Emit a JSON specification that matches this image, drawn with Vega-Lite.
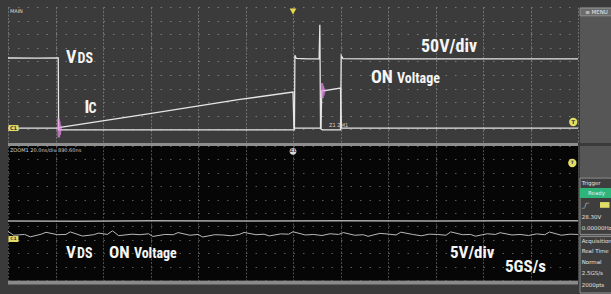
{
  "$schema": "https://vega.github.io/schema/vega-lite/v6.json",
  "background": "#3a3a3a",
  "padding": {"left": 5, "top": 7, "right": 0, "bottom": 0},
  "bounds": "flush",
  "columns": 2,
  "spacing": {"row": 3, "column": 2},
  "config": {
    "view": {"stroke": null},
    "axis": {"labels": false, "ticks": false, "domain": false, "title": null, "grid": true, "gridWidth": 1},
    "axisX": {"tickCount": 12},
    "axisY": {"tickCount": 10}
  },
  "datasets": {
    "main": [
      {"trace": "VDS", "t": 0, "v": 1.25}, {"trace": "VDS", "t": 0.6, "v": 1.24}, {"trace": "VDS", "t": 1.058, "v": 1.25},
      {"trace": "VDS", "t": 1.066, "v": -4.04}, {"trace": "VDS", "t": 1.3, "v": -4.04}, {"trace": "VDS", "t": 3.0, "v": -4.03},
      {"trace": "VDS", "t": 6.03, "v": -4.04}, {"trace": "VDS", "t": 6.04, "v": 1.45}, {"trace": "VDS", "t": 6.07, "v": 1.22},
      {"trace": "VDS", "t": 6.3, "v": 1.19}, {"trace": "VDS", "t": 6.55, "v": 1.18}, {"trace": "VDS", "t": 6.565, "v": 3.7},
      {"trace": "VDS", "t": 6.58, "v": -3.95}, {"trace": "VDS", "t": 6.62, "v": -4.04}, {"trace": "VDS", "t": 7.0, "v": -4.04},
      {"trace": "VDS", "t": 7.015, "v": 1.42}, {"trace": "VDS", "t": 7.05, "v": 1.2}, {"trace": "VDS", "t": 7.6, "v": 1.18},
      {"trace": "VDS", "t": 9.0, "v": 1.19}, {"trace": "VDS", "t": 10.5, "v": 1.18}, {"trace": "VDS", "t": 12.0, "v": 1.19},
      {"trace": "Ic", "t": 0, "v": -3.9}, {"trace": "Ic", "t": 1.07, "v": -3.9}, {"trace": "Ic", "t": 1.1, "v": -3.85},
      {"trace": "Ic", "t": 2.884, "v": -2.9}, {"trace": "Ic", "t": 4.884, "v": -1.8}, {"trace": "Ic", "t": 6.0, "v": -1.25},
      {"trace": "Ic", "t": 6.02, "v": -3.9}, {"trace": "Ic", "t": 6.59, "v": -3.9}, {"trace": "Ic", "t": 6.605, "v": -1.18},
      {"trace": "Ic", "t": 7.0, "v": -0.96}, {"trace": "Ic", "t": 7.02, "v": -3.9}, {"trace": "Ic", "t": 12.0, "v": -3.9},
      {"trace": "ring1", "t": 1.06, "v": -3.2}, {"trace": "ring1", "t": 1.07, "v": -4.6}, {"trace": "ring1", "t": 1.08, "v": -3.4},
      {"trace": "ring1", "t": 1.09, "v": -4.4}, {"trace": "ring1", "t": 1.1, "v": -3.7}, {"trace": "ring1", "t": 1.11, "v": -4.1},
      {"trace": "ring2", "t": 6.61, "v": -0.6}, {"trace": "ring2", "t": 6.62, "v": -1.7}, {"trace": "ring2", "t": 6.63, "v": -0.8},
      {"trace": "ring2", "t": 6.64, "v": -1.5}, {"trace": "ring2", "t": 6.65, "v": -1.0}, {"trace": "ring2", "t": 6.66, "v": -1.3}
    ],
    "zoom": [
      {"trace": "flat", "t": 0, "v": -0.6}, {"trace": "flat", "t": 1.5, "v": -0.62}, {"trace": "flat", "t": 3, "v": -0.58},
      {"trace": "flat", "t": 5, "v": -0.6}, {"trace": "flat", "t": 7, "v": -0.57}, {"trace": "flat", "t": 9, "v": -0.59},
      {"trace": "flat", "t": 12, "v": -0.58},
      {"trace": "noisy", "t": 0, "v": -1.38}, {"trace": "noisy", "t": 0.12, "v": -1.66}, {"trace": "noisy", "t": 0.35, "v": -1.6},
      {"trace": "noisy", "t": 0.47, "v": -1.78}, {"trace": "noisy", "t": 0.7, "v": -1.58}, {"trace": "noisy", "t": 0.8, "v": -1.44},
      {"trace": "noisy", "t": 1.04, "v": -1.62}, {"trace": "noisy", "t": 1.22, "v": -1.6}, {"trace": "noisy", "t": 1.31, "v": -1.41},
      {"trace": "noisy", "t": 1.57, "v": -1.72}, {"trace": "noisy", "t": 1.8, "v": -1.62}, {"trace": "noisy", "t": 1.91, "v": -1.5},
      {"trace": "noisy", "t": 2.09, "v": -1.6}, {"trace": "noisy", "t": 2.2, "v": -1.33}, {"trace": "noisy", "t": 2.33, "v": -1.69},
      {"trace": "noisy", "t": 2.61, "v": -1.58}, {"trace": "noisy", "t": 2.78, "v": -1.62}, {"trace": "noisy", "t": 2.96, "v": -1.55},
      {"trace": "noisy", "t": 3.05, "v": -1.75}, {"trace": "noisy", "t": 3.3, "v": -1.6}, {"trace": "noisy", "t": 3.48, "v": -1.62},
      {"trace": "noisy", "t": 3.58, "v": -1.46}, {"trace": "noisy", "t": 3.83, "v": -1.66}, {"trace": "noisy", "t": 4.0, "v": -1.6},
      {"trace": "noisy", "t": 4.1, "v": -1.79}, {"trace": "noisy", "t": 4.35, "v": -1.62}, {"trace": "noisy", "t": 4.52, "v": -1.64},
      {"trace": "noisy", "t": 4.7, "v": -1.7}, {"trace": "noisy", "t": 4.87, "v": -1.6}, {"trace": "noisy", "t": 4.97, "v": -1.45},
      {"trace": "noisy", "t": 5.22, "v": -1.62}, {"trace": "noisy", "t": 5.39, "v": -1.58}, {"trace": "noisy", "t": 5.5, "v": -1.71},
      {"trace": "noisy", "t": 5.74, "v": -1.56}, {"trace": "noisy", "t": 5.91, "v": -1.58}, {"trace": "noisy", "t": 6.0, "v": -1.4},
      {"trace": "noisy", "t": 6.26, "v": -1.64}, {"trace": "noisy", "t": 6.43, "v": -1.6}, {"trace": "noisy", "t": 6.61, "v": -1.68},
      {"trace": "noisy", "t": 6.78, "v": -1.55}, {"trace": "noisy", "t": 6.96, "v": -1.6}, {"trace": "noisy", "t": 7.06, "v": -1.46},
      {"trace": "noisy", "t": 7.3, "v": -1.66}, {"trace": "noisy", "t": 7.48, "v": -1.62}, {"trace": "noisy", "t": 7.58, "v": -1.74},
      {"trace": "noisy", "t": 7.83, "v": -1.52}, {"trace": "noisy", "t": 8.0, "v": -1.57}, {"trace": "noisy", "t": 8.17, "v": -1.64},
      {"trace": "noisy", "t": 8.27, "v": -1.43}, {"trace": "noisy", "t": 8.52, "v": -1.6}, {"trace": "noisy", "t": 8.7, "v": -1.7},
      {"trace": "noisy", "t": 8.87, "v": -1.58}, {"trace": "noisy", "t": 9.04, "v": -1.6}, {"trace": "noisy", "t": 9.22, "v": -1.66},
      {"trace": "noisy", "t": 9.32, "v": -1.41}, {"trace": "noisy", "t": 9.57, "v": -1.62}, {"trace": "noisy", "t": 9.74, "v": -1.6},
      {"trace": "noisy", "t": 9.84, "v": -1.73}, {"trace": "noisy", "t": 10.09, "v": -1.55}, {"trace": "noisy", "t": 10.26, "v": -1.6},
      {"trace": "noisy", "t": 10.36, "v": -1.47}, {"trace": "noisy", "t": 10.61, "v": -1.64}, {"trace": "noisy", "t": 10.78, "v": -1.6},
      {"trace": "noisy", "t": 10.96, "v": -1.68}, {"trace": "noisy", "t": 11.13, "v": -1.56}, {"trace": "noisy", "t": 11.3, "v": -1.62},
      {"trace": "noisy", "t": 11.4, "v": -1.42}, {"trace": "noisy", "t": 11.65, "v": -1.66}, {"trace": "noisy", "t": 11.83, "v": -1.58},
      {"trace": "noisy", "t": 12.0, "v": -1.6}
    ],
    "labels": [
      {"panel": "main", "part": "big", "text": "V", "t": 1.221, "v": 0.88},
      {"panel": "main", "part": "sub", "text": "DS", "t": 1.463, "v": 0.88},
      {"panel": "main", "part": "big", "text": "I", "t": 1.611, "v": -2.76},
      {"panel": "main", "part": "sub", "text": "C", "t": 1.695, "v": -2.76},
      {"panel": "main", "part": "big", "text": "50V/div", "t": 8.695, "v": 1.69},
      {"panel": "main", "part": "big", "text": "ON", "t": 7.642, "v": -0.59},
      {"panel": "main", "part": "sub", "text": "Voltage", "t": 8.19, "v": -0.59},
      {"panel": "zoom", "part": "big", "text": "V", "t": 1.221, "v": -3.36},
      {"panel": "zoom", "part": "sub", "text": "DS", "t": 1.453, "v": -3.36},
      {"panel": "zoom", "part": "big", "text": "ON", "t": 2.126, "v": -3.36},
      {"panel": "zoom", "part": "sub", "text": "Voltage", "t": 2.65, "v": -3.36},
      {"panel": "zoom", "part": "big", "text": "5V/div", "t": 9.305, "v": -3.36},
      {"panel": "zoom", "part": "big", "text": "5GS/s", "t": 10.463, "v": -4.4}
    ],
    "sidebar": [
      {"item": "≡  MENU", "line": 0.45, "col": 0.5, "align": "center"},
      {"item": "Trigger", "line": 15.94, "col": 0.05, "align": "left"},
      {"item": "Ready", "line": 16.85, "col": 0.5, "align": "center"},
      {"item": "_/‾", "line": 17.93, "col": 0.05, "align": "left"},
      {"item": "28.30V", "line": 19.02, "col": 0.05, "align": "left"},
      {"item": "0.00000Hz", "line": 20.0, "col": 0.05, "align": "left"},
      {"item": "Acquisition", "line": 21.2, "col": 0.05, "align": "left"},
      {"item": "Real Time", "line": 22.1, "col": 0.05, "align": "left"},
      {"item": "Normal", "line": 23.1, "col": 0.05, "align": "left"},
      {"item": "2.5GS/s", "line": 24.1, "col": 0.05, "align": "left"},
      {"item": "2000pts", "line": 25.2, "col": 0.05, "align": "left"}
    ],
    "boxes": [
      {"box": "trigger", "top": 15.5, "bottom": 20.6},
      {"box": "acquisition", "top": 20.8, "bottom": 25.9}
    ]
  },
  "concat": [
    {
      "width": 570,
      "height": 136,
      "view": {"fill": "#3b3b3b", "stroke": null},
      "layer": [
        {
          "data": {"name": "main"},
          "transform": [{"filter": "datum.trace == 'VDS' || datum.trace == 'Ic'"}],
          "mark": {"type": "line", "color": "#e6e6e6", "strokeWidth": 1.3},
          "encoding": {
            "x": {"field": "t", "type": "quantitative", "scale": {"domain": [0, 12], "nice": false, "zero": false},
                  "axis": {"gridColor": "#707070", "gridDash": [2, 1.5]}},
            "y": {"field": "v", "type": "quantitative", "scale": {"domain": [-5, 5], "nice": false, "zero": false},
                  "axis": {"gridColor": "#7a7a7a", "gridDash": [1.5, 8]}},
            "detail": {"field": "trace"}
          }
        },
        {
          "data": {"name": "main"},
          "transform": [{"filter": "datum.trace == 'ring1' || datum.trace == 'ring2'"}],
          "mark": {"type": "line", "color": "#f08cf0", "strokeWidth": 2.5, "opacity": 0.7},
          "encoding": {
            "x": {"field": "t", "type": "quantitative", "scale": {"domain": [0, 12], "nice": false, "zero": false}},
            "y": {"field": "v", "type": "quantitative", "scale": {"domain": [-5, 5], "nice": false, "zero": false}},
            "detail": {"field": "trace"}
          }
        },
        {
          "data": {"name": "labels"},
          "transform": [{"filter": "datum.panel == 'main' && datum.part == 'big'"}],
          "mark": {"type": "text", "align": "left", "baseline": "alphabetic", "font": "Liberation Sans Narrow, Roboto Condensed, DejaVu Sans Condensed, Liberation Sans, sans-serif", "fontWeight": "bold", "fontSize": 18, "color": "#f5f5f5"},
          "encoding": {
            "x": {"field": "t", "type": "quantitative", "scale": {"domain": [0, 12], "nice": false, "zero": false}},
            "y": {"field": "v", "type": "quantitative", "scale": {"domain": [-5, 5], "nice": false, "zero": false}},
            "text": {"field": "text"}
          }
        },
        {
          "data": {"name": "labels"},
          "transform": [{"filter": "datum.panel == 'main' && datum.part == 'sub'"}],
          "mark": {"type": "text", "align": "left", "baseline": "alphabetic", "font": "Liberation Sans Narrow, Roboto Condensed, DejaVu Sans Condensed, Liberation Sans, sans-serif", "fontWeight": "bold", "fontSize": 14, "color": "#f5f5f5"},
          "encoding": {
            "x": {"field": "t", "type": "quantitative", "scale": {"domain": [0, 12], "nice": false, "zero": false}},
            "y": {"field": "v", "type": "quantitative", "scale": {"domain": [-5, 5], "nice": false, "zero": false}},
            "text": {"field": "text"}
          }
        },
        {
          "data": {"values": [{"t": 0.115, "v": -3.9, "tag": "C1"}]},
          "mark": {"type": "point", "shape": "M-1,-0.6H1V0.6H-1Z", "size": 100, "filled": true, "color": "#e2dd66", "opacity": 1},
          "encoding": {
            "x": {"field": "t", "type": "quantitative", "scale": {"domain": [0, 12], "nice": false, "zero": false}},
            "y": {"field": "v", "type": "quantitative", "scale": {"domain": [-5, 5], "nice": false, "zero": false}}
          }
        },
        {
          "data": {"values": [{"t": 11.9, "v": -3.46, "tag": "T"}]},
          "mark": {"type": "point", "shape": "circle", "size": 70, "filled": true, "color": "#e2dd66", "opacity": 1},
          "encoding": {
            "x": {"field": "t", "type": "quantitative", "scale": {"domain": [0, 12], "nice": false, "zero": false}},
            "y": {"field": "v", "type": "quantitative", "scale": {"domain": [-5, 5], "nice": false, "zero": false}}
          }
        },
        {
          "data": {"values": [{"t": 6.0, "v": 4.67}]},
          "mark": {"type": "point", "shape": "triangle-down", "size": 45, "filled": true, "color": "#e6d84a", "opacity": 1},
          "encoding": {
            "x": {"field": "t", "type": "quantitative", "scale": {"domain": [0, 12], "nice": false, "zero": false}},
            "y": {"field": "v", "type": "quantitative", "scale": {"domain": [-5, 5], "nice": false, "zero": false}}
          }
        },
        {
          "data": {"values": [{"t": 0.115, "v": -3.9, "tag": "C1"}, {"t": 11.9, "v": -3.46, "tag": "T"}]},
          "mark": {"type": "text", "align": "center", "baseline": "middle", "fontSize": 5, "fontWeight": "bold", "color": "#333333", "font": "DejaVu Sans"},
          "encoding": {
            "x": {"field": "t", "type": "quantitative", "scale": {"domain": [0, 12], "nice": false, "zero": false}},
            "y": {"field": "v", "type": "quantitative", "scale": {"domain": [-5, 5], "nice": false, "zero": false}},
            "text": {"field": "tag"}
          }
        },
        {
          "data": {"values": [{"t": 0.04, "v": 4.7, "tag": "MAIN"}, {"t": 6.76, "v": -3.68, "tag": "Z1 ZM1"}]},
          "mark": {"type": "text", "align": "left", "baseline": "middle", "fontSize": 5, "color": "#d8d8d8", "font": "DejaVu Sans"},
          "encoding": {
            "x": {"field": "t", "type": "quantitative", "scale": {"domain": [0, 12], "nice": false, "zero": false}},
            "y": {"field": "v", "type": "quantitative", "scale": {"domain": [-5, 5], "nice": false, "zero": false}},
            "text": {"field": "tag"}
          }
        }
      ]
    },
    {
      "width": 33,
      "height": 136,
      "view": {"fill": "#565656", "stroke": null},
      "layer": [
        {
          "data": {"values": [{"box": "menu", "top": 0.1, "bottom": 0.8}]},
          "mark": {"type": "rect", "fill": "#6c6c6c", "stroke": "#9a9a9a", "strokeWidth": 0.8},
          "encoding": {
            "y": {"field": "top", "type": "quantitative", "scale": {"domain": [0, 12.32], "reverse": true, "nice": false, "zero": false}, "axis": null},
            "y2": {"field": "bottom"}
          }
        },
        {
          "data": {"name": "sidebar"},
          "transform": [{"filter": "datum.line < 12"}],
          "mark": {"type": "text", "align": "center", "baseline": "middle", "fontSize": 5.5, "color": "#e8e8e8", "font": "DejaVu Sans"},
          "encoding": {
            "x": {"field": "col", "type": "quantitative", "scale": {"domain": [0, 1], "nice": false, "zero": false}, "axis": null},
            "y": {"field": "line", "type": "quantitative", "scale": {"domain": [0, 12.32], "reverse": true, "nice": false, "zero": false}, "axis": null},
            "text": {"field": "item"}
          }
        }
      ]
    },
    {
      "width": 570,
      "height": 134,
      "view": {"fill": "#060606", "stroke": null},
      "layer": [
        {
          "data": {"name": "zoom"},
          "transform": [{"filter": "datum.trace == 'flat'"}],
          "mark": {"type": "line", "color": "#a8a8a8", "strokeWidth": 1.5},
          "encoding": {
            "x": {"field": "t", "type": "quantitative", "scale": {"domain": [0, 12], "nice": false, "zero": false},
                  "axis": {"gridColor": "#4c4c4c", "gridDash": [2, 1.5]}},
            "y": {"field": "v", "type": "quantitative", "scale": {"domain": [-5, 5], "nice": false, "zero": false},
                  "axis": {"gridColor": "#5a5a5a", "gridDash": [1.5, 8]}}
          }
        },
        {
          "data": {"name": "zoom"},
          "transform": [{"filter": "datum.trace == 'noisy'"}],
          "mark": {"type": "line", "color": "#b8b8b8", "strokeWidth": 1},
          "encoding": {
            "x": {"field": "t", "type": "quantitative", "scale": {"domain": [0, 12], "nice": false, "zero": false}},
            "y": {"field": "v", "type": "quantitative", "scale": {"domain": [-5, 5], "nice": false, "zero": false}}
          }
        },
        {
          "data": {"values": [{"v": 5.12, "edge": "top"}]},
          "mark": {"type": "rule", "color": "#8e8e8e", "strokeWidth": 3},
          "encoding": {
            "y": {"field": "v", "type": "quantitative", "scale": {"domain": [-5, 5], "nice": false, "zero": false}}
          }
        },
        {
          "data": {"values": [{"v": -5.2, "edge": "bottom"}]},
          "mark": {"type": "rule", "color": "#8a8a8a", "strokeWidth": 3.5},
          "encoding": {
            "y": {"field": "v", "type": "quantitative", "scale": {"domain": [-5, 5], "nice": false, "zero": false}}
          }
        },
        {
          "data": {"name": "labels"},
          "transform": [{"filter": "datum.panel == 'zoom' && datum.part == 'big'"}],
          "mark": {"type": "text", "align": "left", "baseline": "alphabetic", "font": "Liberation Sans Narrow, Roboto Condensed, DejaVu Sans Condensed, Liberation Sans, sans-serif", "fontWeight": "bold", "fontSize": 17, "color": "#f5f5f5"},
          "encoding": {
            "x": {"field": "t", "type": "quantitative", "scale": {"domain": [0, 12], "nice": false, "zero": false}},
            "y": {"field": "v", "type": "quantitative", "scale": {"domain": [-5, 5], "nice": false, "zero": false}},
            "text": {"field": "text"}
          }
        },
        {
          "data": {"name": "labels"},
          "transform": [{"filter": "datum.panel == 'zoom' && datum.part == 'sub'"}],
          "mark": {"type": "text", "align": "left", "baseline": "alphabetic", "font": "Liberation Sans Narrow, Roboto Condensed, DejaVu Sans Condensed, Liberation Sans, sans-serif", "fontWeight": "bold", "fontSize": 14, "color": "#f5f5f5"},
          "encoding": {
            "x": {"field": "t", "type": "quantitative", "scale": {"domain": [0, 12], "nice": false, "zero": false}},
            "y": {"field": "v", "type": "quantitative", "scale": {"domain": [-5, 5], "nice": false, "zero": false}},
            "text": {"field": "text"}
          }
        },
        {
          "data": {"values": [{"t": 0.115, "v": -1.94, "tag": "C1"}]},
          "mark": {"type": "point", "shape": "M-1,-0.6H1V0.6H-1Z", "size": 100, "filled": true, "color": "#e2dd66", "opacity": 1},
          "encoding": {
            "x": {"field": "t", "type": "quantitative", "scale": {"domain": [0, 12], "nice": false, "zero": false}},
            "y": {"field": "v", "type": "quantitative", "scale": {"domain": [-5, 5], "nice": false, "zero": false}}
          }
        },
        {
          "data": {"values": [{"t": 11.88, "v": 3.73, "tag": "T"}]},
          "mark": {"type": "point", "shape": "circle", "size": 70, "filled": true, "color": "#e2dd66", "opacity": 1},
          "encoding": {
            "x": {"field": "t", "type": "quantitative", "scale": {"domain": [0, 12], "nice": false, "zero": false}},
            "y": {"field": "v", "type": "quantitative", "scale": {"domain": [-5, 5], "nice": false, "zero": false}}
          }
        },
        {
          "data": {"values": [{"t": 6.0, "v": 4.6, "tag": "Z1"}]},
          "mark": {"type": "point", "shape": "circle", "size": 45, "filled": true, "color": "#d8d8d8", "opacity": 1},
          "encoding": {
            "x": {"field": "t", "type": "quantitative", "scale": {"domain": [0, 12], "nice": false, "zero": false}},
            "y": {"field": "v", "type": "quantitative", "scale": {"domain": [-5, 5], "nice": false, "zero": false}}
          }
        },
        {
          "data": {"values": [{"t": 0.115, "v": -1.94, "tag": "C1"}, {"t": 11.88, "v": 3.73, "tag": "T"}, {"t": 6.0, "v": 4.6, "tag": "Z1"}]},
          "mark": {"type": "text", "align": "center", "baseline": "middle", "fontSize": 4.5, "fontWeight": "bold", "color": "#333333", "font": "DejaVu Sans"},
          "encoding": {
            "x": {"field": "t", "type": "quantitative", "scale": {"domain": [0, 12], "nice": false, "zero": false}},
            "y": {"field": "v", "type": "quantitative", "scale": {"domain": [-5, 5], "nice": false, "zero": false}},
            "text": {"field": "tag"}
          }
        },
        {
          "data": {"values": [{"t": 0.04, "v": 4.68, "tag": "ZOOM1  20.0ns/div  890.60ns"}]},
          "mark": {"type": "text", "align": "left", "baseline": "middle", "fontSize": 5, "color": "#d0d0d0", "font": "DejaVu Sans"},
          "encoding": {
            "x": {"field": "t", "type": "quantitative", "scale": {"domain": [0, 12], "nice": false, "zero": false}},
            "y": {"field": "v", "type": "quantitative", "scale": {"domain": [-5, 5], "nice": false, "zero": false}},
            "text": {"field": "tag"}
          }
        }
      ]
    },
    {
      "width": 33,
      "height": 148,
      "view": {"fill": "#565656", "stroke": null},
      "layer": [
        {
          "data": {"name": "boxes"},
          "mark": {"type": "rect", "fill": "#3e3e3e", "stroke": "#8c8c8c", "strokeWidth": 1},
          "encoding": {
            "y": {"field": "top", "type": "quantitative", "scale": {"domain": [12.59, 26], "reverse": true, "nice": false, "zero": false}, "axis": null},
            "y2": {"field": "bottom"}
          }
        },
        {
          "data": {"values": [{"state": "Ready", "top": 16.4, "bottom": 17.3}]},
          "mark": {"type": "rect", "fill": "#2fb57a"},
          "encoding": {
            "y": {"field": "top", "type": "quantitative", "scale": {"domain": [12.59, 26], "reverse": true, "nice": false, "zero": false}, "axis": null},
            "y2": {"field": "bottom"}
          }
        },
        {
          "data": {"name": "sidebar"},
          "transform": [{"filter": "datum.line > 12 && datum.align == 'left'"}],
          "mark": {"type": "text", "align": "left", "baseline": "middle", "fontSize": 5.5, "color": "#e0e0e0", "font": "DejaVu Sans"},
          "encoding": {
            "x": {"field": "col", "type": "quantitative", "scale": {"domain": [0, 1], "nice": false, "zero": false}, "axis": null},
            "y": {"field": "line", "type": "quantitative", "scale": {"domain": [12.59, 26], "reverse": true, "nice": false, "zero": false}, "axis": null},
            "text": {"field": "item"}
          }
        },
        {
          "data": {"name": "sidebar"},
          "transform": [{"filter": "datum.line > 12 && datum.align == 'center'"}],
          "mark": {"type": "text", "align": "center", "baseline": "middle", "fontSize": 5.5, "color": "#e8e8e8", "font": "DejaVu Sans"},
          "encoding": {
            "x": {"field": "col", "type": "quantitative", "scale": {"domain": [0, 1], "nice": false, "zero": false}, "axis": null},
            "y": {"field": "line", "type": "quantitative", "scale": {"domain": [12.59, 26], "reverse": true, "nice": false, "zero": false}, "axis": null},
            "text": {"field": "item"}
          }
        },
        {
          "data": {"values": [{"col": 0.75, "line": 17.93}]},
          "mark": {"type": "point", "shape": "M-1,-0.6H1V0.6H-1Z", "size": 90, "filled": true, "color": "#e2dd66", "opacity": 1},
          "encoding": {
            "x": {"field": "col", "type": "quantitative", "scale": {"domain": [0, 1], "nice": false, "zero": false}, "axis": null},
            "y": {"field": "line", "type": "quantitative", "scale": {"domain": [12.59, 26], "reverse": true, "nice": false, "zero": false}, "axis": null}
          }
        }
      ]
    }
  ]
}
